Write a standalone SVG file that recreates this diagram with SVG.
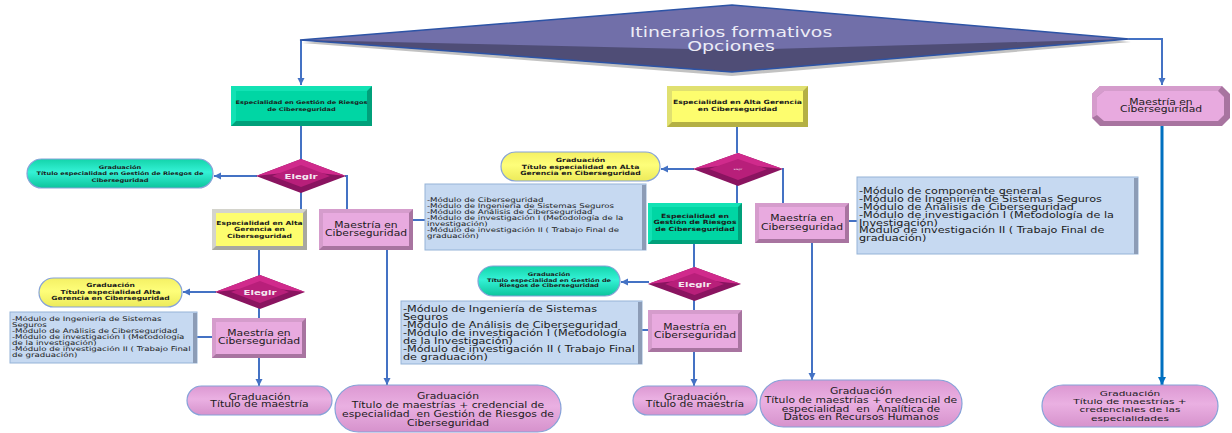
<svg xmlns="http://www.w3.org/2000/svg" width="1232" height="433" viewBox="0 0 1232 433">
<defs>
<style>
.tx{font-family:"DejaVu Sans","Liberation Sans",sans-serif;fill:#1b1b1b}
.c{text-anchor:middle}
.b{font-weight:bold}
.tb{font-size:14px;fill:#ececf6}
.s49{font-size:4.9px}
.s56{font-size:5.6px}
.s57{font-size:5.7px}
.tm{font-size:8px}
.tl6{font-size:6.4px}
.tl8{font-size:8.3px}
.te{font-size:7.5px;font-weight:bold;fill:#f4e6f0}
.cn{fill:none;stroke:#4472c4;stroke-width:2}
.cnb{fill:none;stroke:#0070c0;stroke-width:3}
.gD{fill:#00a07a}.gL{fill:#12e2b4}.gM{fill:#00d6a4}
.yD{fill:#b4b044}.yL{fill:#e0e070}.yM{fill:#fdfd6e}
.yG{fill:#a8a8a0}
.pD{fill:#a874a0}.pL{fill:#d59ccc}.pM{fill:#e8aadf}
.lst{fill:#c6d9f1;stroke:#95b3d7;stroke-width:1}
.lstR{fill:#8c9cb6}
.dO{fill:#8a1460}.dT{fill:#d02a8c}.dI{fill:#b81f7a}
.cap{stroke:#86a2d8;stroke-width:1.2}
</style>
<marker id="arr" markerUnits="userSpaceOnUse" markerWidth="8" markerHeight="8" refX="7" refY="3.5" orient="auto"><path d="M0,0 L7,3.5 L0,7 z" fill="#4472c4"/></marker>
<marker id="arrB" markerUnits="userSpaceOnUse" markerWidth="9" markerHeight="9" refX="8" refY="4" orient="auto"><path d="M0,0 L8,4 L0,8 z" fill="#0070c0"/></marker>
<linearGradient id="gG" x1="0" y1="0" x2="0" y2="1"><stop offset="0" stop-color="#14d4aa"/><stop offset="0.45" stop-color="#34f2d6"/><stop offset="1" stop-color="#0cc49c"/></linearGradient>
<linearGradient id="gY" x1="0" y1="0" x2="0" y2="1"><stop offset="0" stop-color="#f4f064"/><stop offset="0.45" stop-color="#fefe7a"/><stop offset="1" stop-color="#ecea5a"/></linearGradient>
<linearGradient id="gP" x1="0" y1="0" x2="0" y2="1"><stop offset="0" stop-color="#dc98d2"/><stop offset="0.45" stop-color="#eab0e2"/><stop offset="1" stop-color="#d692cc"/></linearGradient>
</defs>
<rect width="1232" height="433" fill="#ffffff"/>

<g id="connectors">
<path class="cn" d="M301,40 V85" marker-end="url(#arr)"/>
<path class="cn" d="M1129,39 H1162 V85" marker-end="url(#arr)"/>
<path class="cn" d="M301,126 V160"/>
<path class="cn" d="M257,176 H214" marker-end="url(#arr)"/>
<path class="cn" d="M345,176 H347 V209"/>
<path class="cn" d="M301,192 V209"/>
<path class="cn" d="M413,220 H425"/>
<path class="cn" d="M387,250 V385" marker-end="url(#arr)"/>
<path class="cn" d="M259,250 V276"/>
<path class="cn" d="M216,292 H183" marker-end="url(#arr)"/>
<path class="cn" d="M259,308 V318"/>
<path class="cn" d="M212,337 H197"/>
<path class="cn" d="M259,358 V386" marker-end="url(#arr)"/>
<path class="cn" d="M737,127 V153"/>
<path class="cn" d="M694,169 H661" marker-end="url(#arr)"/>
<path class="cn" d="M782,169 H783 V203"/>
<path class="cn" d="M737,185 V203"/>
<path class="cn" d="M849,221 H857"/>
<path class="cn" d="M812,243 V380" marker-end="url(#arr)"/>
<path class="cn" d="M694,244 V267"/>
<path class="cn" d="M649,282 H621" marker-end="url(#arr)"/>
<path class="cn" d="M694,300 V310"/>
<path class="cn" d="M648,330 H642"/>
<path class="cn" d="M694,352 V386" marker-end="url(#arr)"/>
<path class="cnb" d="M1162,126 V385" marker-end="url(#arrB)"/>
</g>

<g id="banner">
<polygon points="302,43 732,9 1131,42 732,76" fill="#9a9a9a" opacity="0.6"/>
<polygon points="300,40 732,5 1129,39 732,72" fill="#716fa9"/>
<polygon points="300,40 732,50 1129,39 732,72" fill="#4f4d76"/>
<polygon points="300,40 732,5 1129,39 732,72" fill="none" stroke="#2d54a6" stroke-width="1.5"/>
<text class="tx tb c" transform="matrix(1.35 0 0 1 731 0)" y="37">Itinerarios formativos</text>
<text class="tx tb c" transform="matrix(1.35 0 0 1 731 0)" y="51">Opciones</text>
</g>

<g id="esp-gestion-1">
<rect class="gD" x="231" y="86" width="141" height="40"/>
<polygon class="gL" points="231,86 372,86 367,91 236,91 236,121 231,126"/>
<rect class="gM" x="236" y="91" width="131" height="30"/>
<text class="tx b s49 c" transform="matrix(1.35 0 0 1 301.5 0)" y="104">Especialidad en Gestión de Riesgos</text>
<text class="tx b s49 c" transform="matrix(1.35 0 0 1 301.5 0)" y="111">de Ciberseguridad</text>
</g>

<g id="elegir-1">
<polygon class="dO" points="256,176 301,159 346,176 301,193"/>
<polygon class="dT" points="256,176 301,159 346,176 301,171"/>
<polygon class="dI" points="272,176 301,165 330,176 301,187"/>
<text class="tx te c" transform="matrix(1.35 0 0 1 301 0)" y="179">Elegir</text>
</g>

<g id="grad-esp-gestion-1">
<rect class="cap" x="27" y="159" width="186" height="29" rx="14.5" fill="url(#gG)"/>
<text class="tx b s49 c" transform="matrix(1.35 0 0 1 120 0)" y="169">Graduación</text>
<text class="tx b s49 c" transform="matrix(1.35 0 0 1 120 0)" y="175.5">Título especialidad en Gestión de Riesgos de</text>
<text class="tx b s49 c" transform="matrix(1.35 0 0 1 120 0)" y="182">Ciberseguridad</text>
</g>

<g id="esp-alta-1">
<rect class="yG" x="212" y="209" width="95" height="41"/>
<polygon fill="#d4d4cc" points="212,209 307,209 303,213 216,213 216,246 212,250"/>
<rect class="yM" x="216" y="213" width="87" height="33"/>
<text class="tx b s56 c" transform="matrix(1.35 0 0 1 259.5 0)" y="225">Especialidad en Alta</text>
<text class="tx b s56 c" transform="matrix(1.35 0 0 1 259.5 0)" y="231.5">Gerencia en</text>
<text class="tx b s56 c" transform="matrix(1.35 0 0 1 259.5 0)" y="238">Ciberseguridad</text>
</g>

<g id="maestria-1">
<rect class="pD" x="319" y="209" width="94" height="41"/>
<polygon class="pL" points="319,209 413,209 409,213 323,213 323,246 319,250"/>
<rect class="pM" x="323" y="213" width="86" height="33"/>
<text class="tx tm c" transform="matrix(1.35 0 0 1 366 0)" y="228">Maestría en</text>
<text class="tx tm c" transform="matrix(1.35 0 0 1 366 0)" y="236.5">Ciberseguridad</text>
</g>

<g id="modulos-1">
<rect class="lst" x="425" y="184" width="221" height="66"/>
<rect class="lstR" x="642" y="185" width="4" height="65"/>
<text class="tx tl6" transform="matrix(1.35 0 0 1 427 0)" x="0" y="202">-Módulo de Ciberseguridad</text>
<text class="tx tl6" transform="matrix(1.35 0 0 1 427 0)" x="0" y="208">-Módulo de Ingeniería de Sistemas Seguros</text>
<text class="tx tl6" transform="matrix(1.35 0 0 1 427 0)" x="0" y="214">-Módulo de Análisis de Ciberseguridad</text>
<text class="tx tl6" transform="matrix(1.35 0 0 1 427 0)" x="0" y="220">-Módulo de investigación I (Metodología de la</text>
<text class="tx tl6" transform="matrix(1.35 0 0 1 427 0)" x="0" y="226">investigación)</text>
<text class="tx tl6" transform="matrix(1.35 0 0 1 427 0)" x="0" y="232">-Módulo de investigación II ( Trabajo Final de</text>
<text class="tx tl6" transform="matrix(1.35 0 0 1 427 0)" x="0" y="238">graduación)</text>
</g>

<g id="grad-maestria-gestion">
<rect class="cap" x="335" y="385" width="226" height="47" rx="23.5" fill="url(#gP)"/>
<text class="tx tm c" transform="matrix(1.35 0 0 1 448 0)" y="399">Graduación</text>
<text class="tx tm c" transform="matrix(1.35 0 0 1 448 0)" y="408">Título de maestrías + credencial de</text>
<text class="tx tm c" transform="matrix(1.35 0 0 1 448 0)" y="417" xml:space="preserve">especialidad  en Gestión de Riesgos de</text>
<text class="tx tm c" transform="matrix(1.35 0 0 1 448 0)" y="426">Ciberseguridad</text>
</g>

<g id="elegir-2">
<polygon class="dO" points="215,292 260,275 305,292 260,309"/>
<polygon class="dT" points="215,292 260,275 305,292 260,287"/>
<polygon class="dI" points="231,292 260,281 289,292 260,303"/>
<text class="tx te c" transform="matrix(1.35 0 0 1 260 0)" y="295">Elegir</text>
</g>

<g id="grad-esp-alta-1">
<rect class="cap" x="39" y="278" width="143" height="29" rx="14.5" fill="url(#gY)"/>
<text class="tx b s56 c" transform="matrix(1.35 0 0 1 110.5 0)" y="287">Graduación</text>
<text class="tx b s56 c" transform="matrix(1.35 0 0 1 110.5 0)" y="293.7">Título especialidad Alta</text>
<text class="tx b s56 c" transform="matrix(1.35 0 0 1 110.5 0)" y="300.5">Gerencia en Ciberseguridad</text>
</g>

<g id="modulos-2">
<rect class="lst" x="10" y="312" width="187" height="51"/>
<rect class="lstR" x="193" y="313" width="4" height="50"/>
<text class="tx tl6" transform="matrix(1.35 0 0 1 12 0)" x="0" y="321">-Módulo de Ingeniería de Sistemas</text>
<text class="tx tl6" transform="matrix(1.35 0 0 1 12 0)" x="0" y="327">Seguros</text>
<text class="tx tl6" transform="matrix(1.35 0 0 1 12 0)" x="0" y="333">-Módulo de Análisis de Ciberseguridad</text>
<text class="tx tl6" transform="matrix(1.35 0 0 1 12 0)" x="0" y="339">-Módulo de investigación I (Metodología</text>
<text class="tx tl6" transform="matrix(1.35 0 0 1 12 0)" x="0" y="345">de la investigación)</text>
<text class="tx tl6" transform="matrix(1.35 0 0 1 12 0)" x="0" y="351">-Módulo de investigación II ( Trabajo Final</text>
<text class="tx tl6" transform="matrix(1.35 0 0 1 12 0)" x="0" y="357">de graduación)</text>
</g>

<g id="maestria-2">
<rect class="pD" x="212" y="318" width="94" height="40"/>
<polygon class="pL" points="212,318 306,318 302,322 216,322 216,354 212,358"/>
<rect class="pM" x="216" y="322" width="86" height="32"/>
<text class="tx tm c" transform="matrix(1.35 0 0 1 259 0)" y="336.3">Maestría en</text>
<text class="tx tm c" transform="matrix(1.35 0 0 1 259 0)" y="344.5">Ciberseguridad</text>
</g>

<g id="grad-maestria-1">
<rect class="cap" x="187" y="386" width="145" height="29" rx="14.5" fill="url(#gP)"/>
<text class="tx tm c" transform="matrix(1.35 0 0 1 259.5 0)" y="399.7">Graduación</text>
<text class="tx tm c" transform="matrix(1.35 0 0 1 259.5 0)" y="407.5">Título de maestría</text>
</g>

<g id="esp-alta-2">
<rect class="yD" x="667" y="86" width="141" height="41"/>
<polygon class="yL" points="667,86 808,86 803,91 672,91 672,122 667,127"/>
<rect class="yM" x="672" y="91" width="131" height="31"/>
<text class="tx b s57 c" transform="matrix(1.35 0 0 1 737.5 0)" y="104">Especialidad en Alta Gerencia</text>
<text class="tx b s57 c" transform="matrix(1.35 0 0 1 737.5 0)" y="111">en Ciberseguridad</text>
</g>

<g id="elegir-3">
<polygon class="dO" points="693,169 738,153 783,169 738,186"/>
<polygon class="dT" points="693,169 738,153 783,169 738,164"/>
<polygon class="dI" points="709,169 738,159 767,169 738,180"/>
<text class="tx c" transform="matrix(1.35 0 0 1 738 0)" y="170" style="font-size:2.2px;fill:#f4e6f0">Elegir</text>
</g>

<g id="grad-esp-alta-2">
<rect class="cap" x="501" y="152" width="159" height="29" rx="14.5" fill="url(#gY)"/>
<text class="tx b s57 c" transform="matrix(1.35 0 0 1 580.5 0)" y="162">Graduación</text>
<text class="tx b s57 c" transform="matrix(1.35 0 0 1 580.5 0)" y="168.7">Título especialidad en ALta</text>
<text class="tx b s57 c" transform="matrix(1.35 0 0 1 580.5 0)" y="175.4">Gerencia en Ciberseguridad</text>
</g>

<g id="esp-gestion-2">
<rect class="gD" x="648" y="203" width="94" height="41"/>
<polygon class="gL" points="648,203 742,203 738,207 652,207 652,240 648,244"/>
<rect class="gM" x="652" y="207" width="86" height="33"/>
<text class="tx b s57 c" transform="matrix(1.35 0 0 1 695 0)" y="218">Especialidad en</text>
<text class="tx b s57 c" transform="matrix(1.35 0 0 1 695 0)" y="224.5">Gestión de Riesgos</text>
<text class="tx b s57 c" transform="matrix(1.35 0 0 1 695 0)" y="231">de Ciberseguridad</text>
</g>

<g id="maestria-3">
<rect class="pD" x="755" y="203" width="94" height="40"/>
<polygon class="pL" points="755,203 849,203 845,207 759,207 759,239 755,243"/>
<rect class="pM" x="759" y="207" width="86" height="32"/>
<text class="tx tm c" transform="matrix(1.35 0 0 1 802 0)" y="221.3">Maestría en</text>
<text class="tx tm c" transform="matrix(1.35 0 0 1 802 0)" y="229.7">Ciberseguridad</text>
</g>

<g id="modulos-3">
<rect class="lst" x="857" y="177" width="281" height="77"/>
<rect class="lstR" x="1134" y="178" width="4" height="76"/>
<text class="tx tl8" transform="matrix(1.35 0 0 1 859 0)" x="0" y="194.5">-Módulo de componente general</text>
<text class="tx tl8" transform="matrix(1.35 0 0 1 859 0)" x="0" y="202.3">-Módulo de Ingeniería de Sistemas Seguros</text>
<text class="tx tl8" transform="matrix(1.35 0 0 1 859 0)" x="0" y="210.1">-Módulo de Análisis de Ciberseguridad</text>
<text class="tx tl8" transform="matrix(1.35 0 0 1 859 0)" x="0" y="217.9">-Módulo de investigación I (Metodología de la</text>
<text class="tx tl8" transform="matrix(1.35 0 0 1 859 0)" x="0" y="225.7">Investigación)</text>
<text class="tx tl8" transform="matrix(1.35 0 0 1 859 0)" x="0" y="233.5">Módulo de investigación II ( Trabajo Final de</text>
<text class="tx tl8" transform="matrix(1.35 0 0 1 859 0)" x="0" y="241.3">graduación)</text>
</g>

<g id="elegir-4">
<polygon class="dO" points="648,284 694.5,267 741,284 694.5,301"/>
<polygon class="dT" points="648,284 694.5,267 741,284 694.5,279"/>
<polygon class="dI" points="665,284 694.5,273 724,284 694.5,295"/>
<text class="tx te c" transform="matrix(1.35 0 0 1 694.5 0)" y="287">Elegir</text>
</g>

<g id="grad-esp-gestion-2">
<rect class="cap" x="478" y="266" width="142" height="30" rx="15" fill="url(#gG)"/>
<text class="tx b s49 c" transform="matrix(1.35 0 0 1 549 0)" y="276">Graduación</text>
<text class="tx b s49 c" transform="matrix(1.35 0 0 1 549 0)" y="282">Título especialidad en Gestión de</text>
<text class="tx b s49 c" transform="matrix(1.35 0 0 1 549 0)" y="287.5">Riesgos de Ciberseguridad</text>
</g>

<g id="modulos-4">
<rect class="lst" x="401" y="301" width="241" height="63"/>
<rect class="lstR" x="638" y="302" width="4" height="62"/>
<text class="tx tl8" transform="matrix(1.35 0 0 1 403 0)" x="0" y="312">-Módulo de Ingeniería de Sistemas</text>
<text class="tx tl8" transform="matrix(1.35 0 0 1 403 0)" x="0" y="320">Seguros</text>
<text class="tx tl8" transform="matrix(1.35 0 0 1 403 0)" x="0" y="328">-Módulo de Análisis de Ciberseguridad</text>
<text class="tx tl8" transform="matrix(1.35 0 0 1 403 0)" x="0" y="336">-Módulo de investigación I (Metodología</text>
<text class="tx tl8" transform="matrix(1.35 0 0 1 403 0)" x="0" y="344">de la Investigación)</text>
<text class="tx tl8" transform="matrix(1.35 0 0 1 403 0)" x="0" y="352">-Módulo de investigación II ( Trabajo Final</text>
<text class="tx tl8" transform="matrix(1.35 0 0 1 403 0)" x="0" y="360">de graduación)</text>
</g>

<g id="maestria-4">
<rect class="pD" x="648" y="310" width="94" height="42"/>
<polygon class="pL" points="648,310 742,310 738,314 652,314 652,348 648,352"/>
<rect class="pM" x="652" y="314" width="86" height="34"/>
<text class="tx tm c" transform="matrix(1.35 0 0 1 695 0)" y="329.7">Maestría en</text>
<text class="tx tm c" transform="matrix(1.35 0 0 1 695 0)" y="338">Ciberseguridad</text>
</g>

<g id="grad-maestria-2">
<rect class="cap" x="633" y="386" width="124" height="29" rx="14.5" fill="url(#gP)"/>
<text class="tx tm c" transform="matrix(1.35 0 0 1 695 0)" y="399.7">Graduación</text>
<text class="tx tm c" transform="matrix(1.35 0 0 1 695 0)" y="407.5">Título de maestría</text>
</g>

<g id="grad-maestria-analitica">
<rect class="cap" x="760" y="380" width="202" height="47" rx="23.5" fill="url(#gP)"/>
<text class="tx tm c" transform="matrix(1.35 0 0 1 861 0)" y="394">Graduación</text>
<text class="tx tm c" transform="matrix(1.35 0 0 1 861 0)" y="403">Título de maestrías + credencial de</text>
<text class="tx tm c" transform="matrix(1.35 0 0 1 861 0)" y="411.7" xml:space="preserve">especialidad  en  Analítica de</text>
<text class="tx tm c" transform="matrix(1.35 0 0 1 861 0)" y="420.3">Datos en Recursos Humanos</text>
</g>

<g id="maestria-right">
<polygon class="pD" points="1100,86 1222,86 1230,94 1230,118 1222,126 1100,126 1092,118 1092,94"/>
<polygon class="pL" points="1100,86 1222,86 1218,91 1104,91 1097,97 1097,115 1092,118 1092,94"/>
<polygon class="pM" points="1104,91 1218,91 1224,97 1224,115 1218,121 1104,121 1097,115 1097,97"/>
<text class="tx tm c" transform="matrix(1.35 0 0 1 1161 0)" y="104.7">Maestría en</text>
<text class="tx tm c" transform="matrix(1.35 0 0 1 1161 0)" y="112.5">Ciberseguridad</text>
</g>

<g id="grad-maestria-right">
<rect class="cap" x="1042" y="385" width="176" height="42" rx="21" fill="url(#gP)"/>
<text class="tx c" transform="matrix(1.35 0 0 1 1130 0)" y="395.7" style="font-size:7.8px">Graduación</text>
<text class="tx c" transform="matrix(1.35 0 0 1 1130 0)" y="403.9" style="font-size:7.8px">Título de maestrías +</text>
<text class="tx c" transform="matrix(1.35 0 0 1 1130 0)" y="412.5" style="font-size:7.8px">credenciales de las</text>
<text class="tx c" transform="matrix(1.35 0 0 1 1130 0)" y="420.7" style="font-size:7.8px">especialidades</text>
</g>
</svg>
